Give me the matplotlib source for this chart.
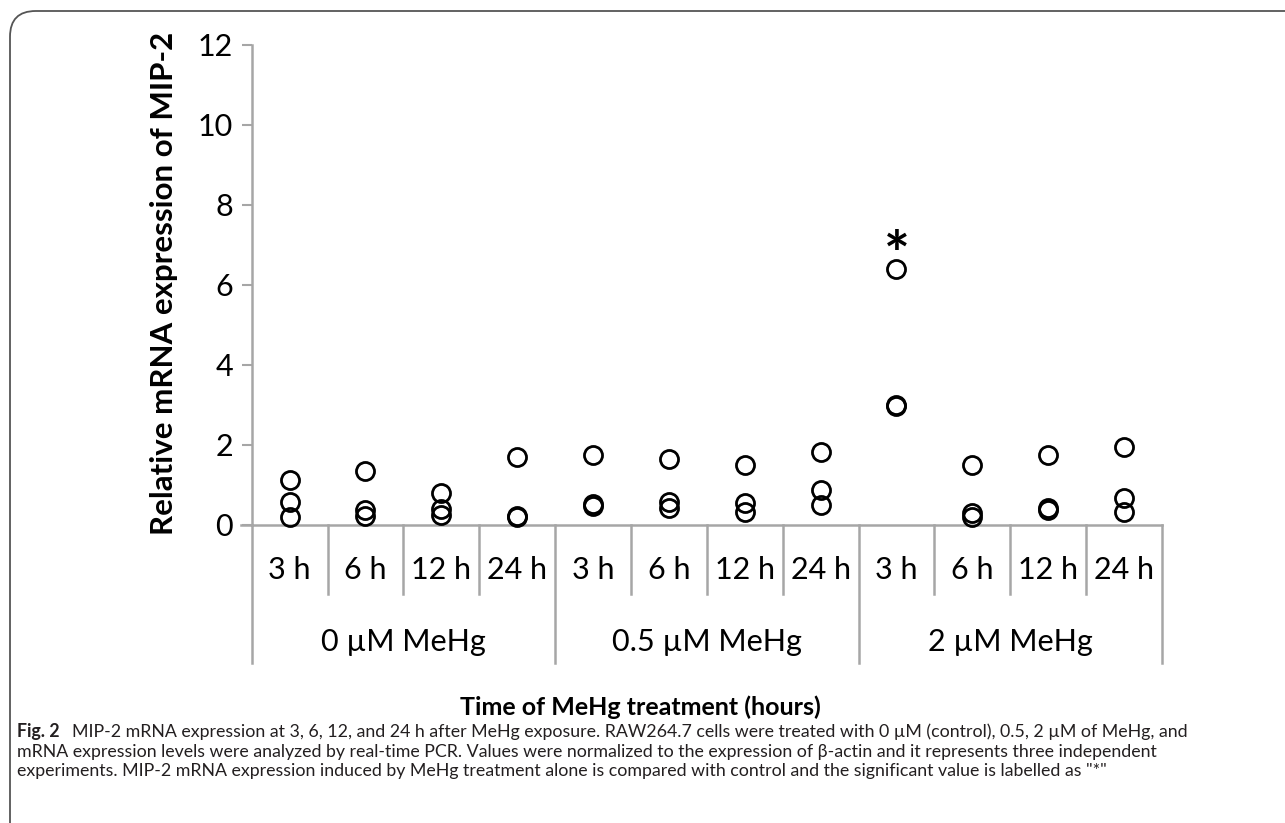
import matplotlib
matplotlib.use("Agg")
import matplotlib.pyplot as plt
from matplotlib.patches import FancyBboxPatch

plt.rcParams['font.family'] = ['Lato', 'DejaVu Sans']

# data (three replicates per time point)
groups = ["0 µM MeHg", "0.5 µM MeHg", "2 µM MeHg"]
times = ["3 h", "6 h", "12 h", "24 h"]
ctrl_vals = [[1.12, 0.57, 0.21], [1.35, 0.38, 0.22], [0.81, 0.39, 0.25], [1.71, 0.22, 0.20]]
mehg05_vals = [[1.74, 0.52, 0.48], [1.65, 0.58, 0.42], [1.50, 0.54, 0.33], [1.82, 0.88, 0.50]]
mehg2_vals = [[6.39, 3.01, 2.98], [1.50, 0.29, 0.19], [1.75, 0.43, 0.38], [1.94, 0.67, 0.33]]
signif_slot = 8      # 2 µM, 3 h
signif_y = 7.08

fig = plt.figure(figsize=(12.85, 8.23), dpi=100)
W, H = 1285, 823
ax = fig.add_axes([251.7 / W, (H - 525) / H, (1162 - 251.7) / W, (525 - 45) / H])

gray = '#a6a6a6'
all_vals = [ctrl_vals, mehg05_vals, mehg2_vals]
slot = 0
for g in all_vals:
    for reps in g:
        ax.plot([slot + 0.5] * len(reps), reps, 'o', ms=13, mfc='none',
                mec='black', mew=2, clip_on=False, zorder=3)
        slot += 1

# asterisk glyph sits high in its box, so anchor it a bit lower
ax.text(signif_slot + 0.5, signif_y - 0.4, "*", fontsize=44, ha='center',
        va='center', fontweight='bold')

ax.set_xlim(0, 12)
ax.set_ylim(0, 12)
ax.set_yticks(range(0, 13, 2))
ax.tick_params(axis='y', direction='out', length=7.5, width=1.5, color=gray,
               labelsize=22, pad=6)
ax.set_xticks([])
for s in ['top', 'right']:
    ax.spines[s].set_visible(False)
for s in ['left', 'bottom']:
    ax.spines[s].set_color(gray)
    ax.spines[s].set_linewidth(1.8)

# extend the x axis line a little to the left like the reference
tr = ax.get_xaxis_transform()
ax.plot([-11 / 76, 0], [0, 0], color=gray, lw=1.8, transform=tr, clip_on=False)

# category separators and labels
n = len(groups) * len(times)
for i in range(n + 1):
    bottom = -0.2875 if i % len(times) == 0 else -0.144
    ax.plot([i, i], [0, bottom], color=gray, lw=1.8, transform=tr, clip_on=False)
for gi, gname in enumerate(groups):
    for ti, t in enumerate(times):
        ax.text(gi * 4 + ti + 0.5, -0.094, t, transform=tr, ha='center',
                va='center', fontsize=22)
    ax.text(gi * 4 + 2, -0.244, gname, transform=tr, ha='center', va='center',
            fontsize=22)

fig.text(164 / W, 1 - 283 / H, "Relative mRNA expression of MIP-2", rotation=90,
         ha='center', va='center', fontsize=22.5, fontweight='bold')
fig.text(640 / W, 1 - 707 / H, "Time of MeHg treatment (hours)", ha='center',
         va='center', fontsize=18, fontweight='bold')

# caption
cap_size = 12.8
fig.text(17 / W, 1 - 737 / H, "Fig. 2", fontsize=cap_size,
         fontweight='bold', va='baseline', ha='left', color='#231f20')
fig.text(72 / W, 1 - 737 / H,
         "MIP-2 mRNA expression at 3, 6, 12, and 24 h after MeHg exposure. RAW264.7 cells were treated with 0 µM (control), 0.5, 2 µM of MeHg, and",
         fontsize=cap_size, va='baseline', ha='left', color='#231f20')
fig.text(17 / W, 1 - 756.5 / H,
         "mRNA expression levels were analyzed by real-time PCR. Values were normalized to the expression of β-actin and it represents three independent",
         fontsize=cap_size, va='baseline', ha='left', color='#231f20')
fig.text(17 / W, 1 - 776 / H,
         "experiments. MIP-2 mRNA expression induced by MeHg treatment alone is compared with control and the significant value is labelled as \"*\"",
         fontsize=cap_size, va='baseline', ha='left', color='#231f20')

# rounded frame around the figure panel
frame = FancyBboxPatch((10 / W, -30 / H), 1400 / W, (H - 11 + 30) / H,
                       boxstyle="round,pad=0,rounding_size=0.02",
                       transform=fig.transFigure, fill=False, ec='#555555',
                       lw=1.3, clip_on=True, mutation_aspect=W / H)
fig.patches.append(frame)

fig.savefig("out.png", dpi=100)
